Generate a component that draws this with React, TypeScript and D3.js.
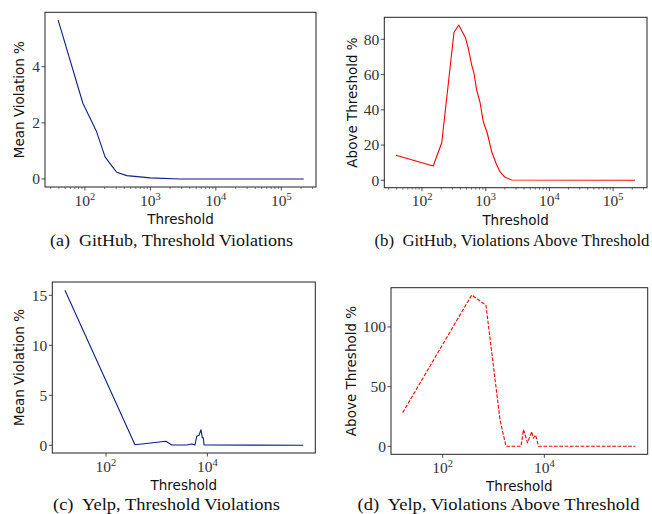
import React from "react";
import * as d3 from "d3";

// ---------- data ----------
const ghViolThresholds = [39, 93, 151, 203, 257, 306, 436, 990, 2800, 220000];
const ghViolValues = [5.66, 2.7, 1.68, 0.79, 0.47, 0.24, 0.12, 0.04, 0.0, 0.0];

const ghAboveThresholds = [39, 150, 204, 318, 377, 479, 533, 603, 655, 722, 813, 916, 1060, 1242, 1488, 1676, 2009, 2560, 220000];
const ghAboveValues = [14.2, 8.1, 21.3, 84.0, 88.1, 81.1, 74.9, 65.4, 60.7, 51.2, 44.3, 33.2, 26.7, 16.2, 8.7, 4.9, 1.7, 0.2, 0];

const yelpViolThresholds = [15.5, 373, 1524, 1977, 3900, 4900, 5690, 6150, 6830, 7480, 7940, 8310, 8580, 780000];
const yelpViolValues = [15.5, 0.05, 0.4, 0.03, 0.03, 0.13, 0.03, 0.9, 1.0, 1.55, 0.75, 0.75, 0.03, 0];

const yelpAboveThresholds = [16.3, 372, 711, 1343, 1762, 3475, 3890, 4670, 5650, 6050, 6720, 7690, 620000];
const yelpAboveValues = [28.2, 126.8, 118.2, 22.0, 0, 0, 14, 3, 12.3, 6.7, 9.5, 0, 0];

const ghXTickExps = [2, 3, 4, 5];
const yelpXTickExps = [2, 4];
const ghViolYTicks = [0, 2, 4];
const ghAboveYTicks = [0, 20, 40, 60, 80];
const yelpViolYTicks = [0, 5, 10, 15];
const yelpAboveYTicks = [0, 50, 100];

const captions = [
  "(a)  GitHub, Threshold Violations",
  "(b)  GitHub, Violations Above Threshold",
  "(c)  Yelp, Threshold Violations",
  "(d)  Yelp, Violations Above Threshold",
];
const yLabels = ["Mean Violation %", "Above Threshold %", "Mean Violation %", "Above Threshold %"];
const xLabel = "Threshold";

// ---------- layout ----------
type PanelProps = {
  L: number; R: number; T: number; B: number;
  xExp: [number, number];
  yDom: [number, number];
  xs: number[]; ys: number[];
  xTickExps: number[];
  yTicks: number[];
  minor: boolean;
  color: string;
  dashed: boolean;
  yLabel: string;
  yLabelX: number;
  caption: string;
  captionX: number;
  captionY: number;
  captionW: number;
};

const SERIF = "'Liberation Serif', 'DejaVu Serif', serif";
const SANS = "'DejaVu Sans', sans-serif";

function Panel(p: PanelProps) {
  const x = d3.scaleLog().domain([Math.pow(10, p.xExp[0]), Math.pow(10, p.xExp[1])]).range([p.L, p.R]);
  const y = d3.scaleLinear().domain(p.yDom).range([p.B, p.T]);
  const line = d3.line<number>().x((_, i) => x(p.xs[i])).y((v) => y(v));
  const path = line(p.ys) || "";

  const minorTicks: number[] = [];
  if (p.minor) {
    const lo = Math.floor(p.xExp[0]);
    const hi = Math.ceil(p.xExp[1]);
    for (let e = lo; e <= hi; e++) {
      for (let m = 2; m <= 9; m++) {
        const v = m * Math.pow(10, e);
        const lv = Math.log10(v);
        if (lv > p.xExp[0] && lv < p.xExp[1]) minorTicks.push(v);
      }
    }
  }
  const cx = (p.L + p.R) / 2;
  const cy = (p.T + p.B) / 2;
  return (
    <g>
      <path d={path} fill="none" stroke={p.color} strokeWidth={1.1}
        strokeDasharray={p.dashed ? "3.7,1.6" : undefined} strokeLinejoin="round" />
      <rect x={p.L} y={p.T} width={p.R - p.L} height={p.B - p.T} fill="none" stroke="#222" strokeWidth={1} />
      {minorTicks.map((v, i) => (
        <line key={"m" + i} x1={x(v)} x2={x(v)} y1={p.B} y2={p.B + 2} stroke="#222" strokeWidth={0.6} />
      ))}
      {p.xTickExps.map((e) => {
        const xv = x(Math.pow(10, e));
        return (
          <g key={"x" + e}>
            <line x1={xv} x2={xv} y1={p.B} y2={p.B + 3.5} stroke="#222" strokeWidth={0.8} />
            <text x={xv} y={p.B + 18.5} textAnchor="middle" fontFamily={SERIF} fontSize={15.5} fill="#333">
              <tspan>10</tspan>
              <tspan dy={-6} fontSize={10.5}>{String(e)}</tspan>
            </text>
          </g>
        );
      })}
      {p.yTicks.map((t) => (
        <g key={"y" + t}>
          <line x1={p.L - 3.5} x2={p.L} y1={y(t)} y2={y(t)} stroke="#222" strokeWidth={0.8} />
          <text x={p.L - 5} y={y(t)} dy="0.34em" textAnchor="end" fontFamily={SERIF} fontSize={15.5} fill="#333">{t}</text>
        </g>
      ))}
      <text x={cx} y={p.B + 37} textAnchor="middle" fontFamily={SANS} fontSize={13.5} fill="#111">{xLabel}</text>
      <text transform={`translate(${p.yLabelX},${cy}) rotate(-90)`} textAnchor="middle" fontFamily={SANS} fontSize={13.5} fill="#111">{p.yLabel}</text>
      <text x={p.captionX - p.captionW / 2} y={p.captionY} fontFamily={SERIF} fontSize={17} fill="#111"
        textLength={p.captionW} lengthAdjust="spacingAndGlyphs"
        style={{ whiteSpace: "pre" }}>{p.caption}</text>
    </g>
  );
}

export default function App() {
  return (
    <svg width={652} height={514} style={{ position: "absolute", left: 0, top: 0, background: "#fff" }}>
      <rect x={0} y={0} width={652} height={514} fill="#fff" />
      <Panel L={45} R={316} T={12.3} B={187} xExp={[1.39, 5.53]} yDom={[-0.285, 5.94]}
        xs={ghViolThresholds} ys={ghViolValues} xTickExps={ghXTickExps} yTicks={ghViolYTicks}
        minor={true} color="#0d1f8a" dashed={false} yLabel={yLabels[0]} yLabelX={24}
        caption={captions[0]} captionX={171.5} captionY={246} captionW={243} />
      <Panel L={384.3} R={647} T={17.3} B={187.7} xExp={[1.408, 5.532]} yDom={[-4.2, 92.5]}
        xs={ghAboveThresholds} ys={ghAboveValues} xTickExps={ghXTickExps} yTicks={ghAboveYTicks}
        minor={true} color="#ff0000" dashed={false} yLabel={yLabels[1]} yLabelX={356.5}
        caption={captions[1]} captionX={512} captionY={246} captionW={275} />
      <Panel L={52.3} R={315.3} T={282} B={453} xExp={[0.941, 6.128]} yDom={[-0.77, 16.33]}
        xs={yelpViolThresholds} ys={yelpViolValues} xTickExps={yelpXTickExps} yTicks={yelpViolYTicks}
        minor={false} color="#0d1f8a" dashed={false} yLabel={yLabels[2]} yLabelX={24}
        caption={captions[2]} captionX={166.5} captionY={509.5} captionW={227} />
      <Panel L={391} R={647.7} T={287.7} B={454.3} xExp={[0.982, 6.035]} yDom={[-6.7, 132.9]}
        xs={yelpAboveThresholds} ys={yelpAboveValues} xTickExps={yelpXTickExps} yTicks={yelpAboveYTicks}
        minor={false} color="#ff0000" dashed={true} yLabel={yLabels[3]} yLabelX={356}
        caption={captions[3]} captionX={498.5} captionY={510} captionW={282} />
    </svg>
  );
}
